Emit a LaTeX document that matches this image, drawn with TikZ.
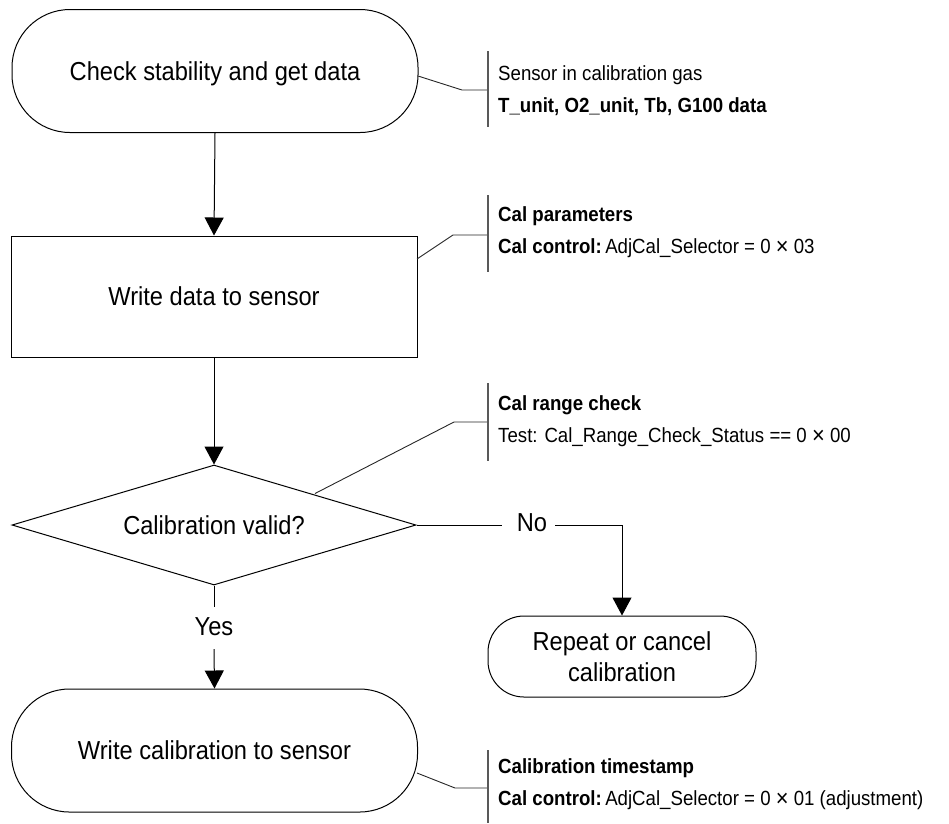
\documentclass[tikz,border=0pt]{standalone}
\usepackage{fontspec}
\setmainfont{Liberation Sans}[FakeStretch=0.91]
\usetikzlibrary{arrows.meta,shapes.geometric}
\newcommand{\bigtimes}{\raisebox{-1.8pt}{\fontsize{24}{0}\selectfont ×}}
\begin{document}
\begin{tikzpicture}[x=1pt,y=-1pt,
  mainfont/.style={font=\fontsize{26}{31}\selectfont},
  oneline/.style={text height=18.7pt, text depth=0pt},
  shapeline/.style={draw=black, line width=1pt},
  term/.style={shapeline, rectangle, rounded corners=58pt, minimum width=406pt,
    minimum height=123pt, inner sep=0pt, mainfont, oneline},
  procbox/.style={shapeline, rectangle, minimum width=406pt, minimum height=121pt,
    inner sep=0pt, mainfont, oneline},
  decision/.style={shapeline, diamond, aspect=3.37, minimum width=404pt,
    minimum height=120pt, inner sep=0pt, mainfont, oneline},
  smallterm/.style={shapeline, rectangle, rounded corners=36pt, minimum width=268pt,
    minimum height=81pt, inner sep=0pt, mainfont, align=center},
  branchlabel/.style={inner sep=0pt, mainfont, oneline},
  flow/.style={line width=1pt, -{Triangle[width=19pt,length=18pt]}},
  plain/.style={line width=1pt},
  leader/.style={line width=0.9pt, draw=black!85},
  bar/.style={line width=1.6pt, draw=black!65},
  note/.style={anchor=base west, inner sep=0pt, font=\fontsize{20.5}{32}\selectfont}
]
\useasboundingbox (0,0) rectangle (949,823);

% main flow nodes
\node[term] (top) at (215,71) {Check stability and get data};
\node[procbox] (box) at (214,296.5) {Write data to sensor};
\node[decision] (dia) at (214,525) {Calibration valid?};
\node[smallterm] (rep) at (622,656.5) {Repeat or cancel\\calibration};
\node[term] (bot) at (214.5,750.5) {Write calibration to sensor};

% branch labels
\node[branchlabel] (no) at (532,522.6) {No};
\node[branchlabel] (yes) at (214,626.6) {Yes};

% connectors
\draw[flow] (top.south) -- (box.north);
\draw[flow] (box.south) -- (dia.north);
\draw[plain] (dia.east) -- ([xshift=-15pt]no.west |- dia.east);
\draw[flow] ([xshift=8pt]no.east |- dia.east) -| (rep.north);
\draw[plain] (dia.south) -- ([yshift=10pt]yes.north);
\draw[flow] ([yshift=-13pt]yes.south) -- (bot.north);

% callout 1
\coordinate (l1s) at (418,76);
\coordinate (l1c) at (462,90);
\coordinate (l1e) at (488,90);
\coordinate (b1t) at (488,51);
\coordinate (b1b) at (488,127);
\draw[leader] (l1s) -- (l1c) -- (l1e);
\draw[bar] (b1t) -- (b1b);
\node[note] (n1a) at (498,80) {Sensor in calibration gas};
\node[note] (n1b) at (498,112) {\bfseries T\_unit, O2\_unit, Tb, G100 data};

% callout 2
\coordinate (l2s) at (417,259);
\coordinate (l2c) at (453,235);
\coordinate (l2e) at (488,235);
\coordinate (b2t) at (488,195);
\coordinate (b2b) at (488,272);
\draw[leader] (l2s) -- (l2c) -- (l2e);
\draw[bar] (b2t) -- (b2b);
\node[note] (n2a) at (498,221) {\bfseries Cal parameters};
\node[note] (n2b) at (498,253) {\textbf{Cal control:}\,AdjCal\_Selector = 0 \bigtimes\ 03};

% callout 3
\coordinate (l3s) at (315,493.5);
\coordinate (l3c) at (454,422);
\coordinate (l3e) at (488,422);
\coordinate (b3t) at (488,383);
\coordinate (b3b) at (488,461);
\draw[leader] (l3s) -- (l3c) -- (l3e);
\draw[bar] (b3t) -- (b3b);
\node[note] (n3a) at (498,410) {\bfseries Cal range check};
\node[note] (n3b) at (498,442) {Test: Cal\_Range\_Check\_Status == 0 \bigtimes\ 00};

% callout 4
\coordinate (l4s) at (417,773);
\coordinate (l4c) at (455,788);
\coordinate (l4e) at (488,788);
\coordinate (b4t) at (488,750);
\coordinate (b4b) at (488,823);
\draw[leader] (l4s) -- (l4c) -- (l4e);
\draw[bar] (b4t) -- (b4b);
\node[note] (n4a) at (498,773) {\bfseries Calibration timestamp};
\node[note] (n4b) at (498,805) {\textbf{Cal control:}\,AdjCal\_Selector = 0 \bigtimes\ 01 (adjustment)};
\end{tikzpicture}
\end{document}
